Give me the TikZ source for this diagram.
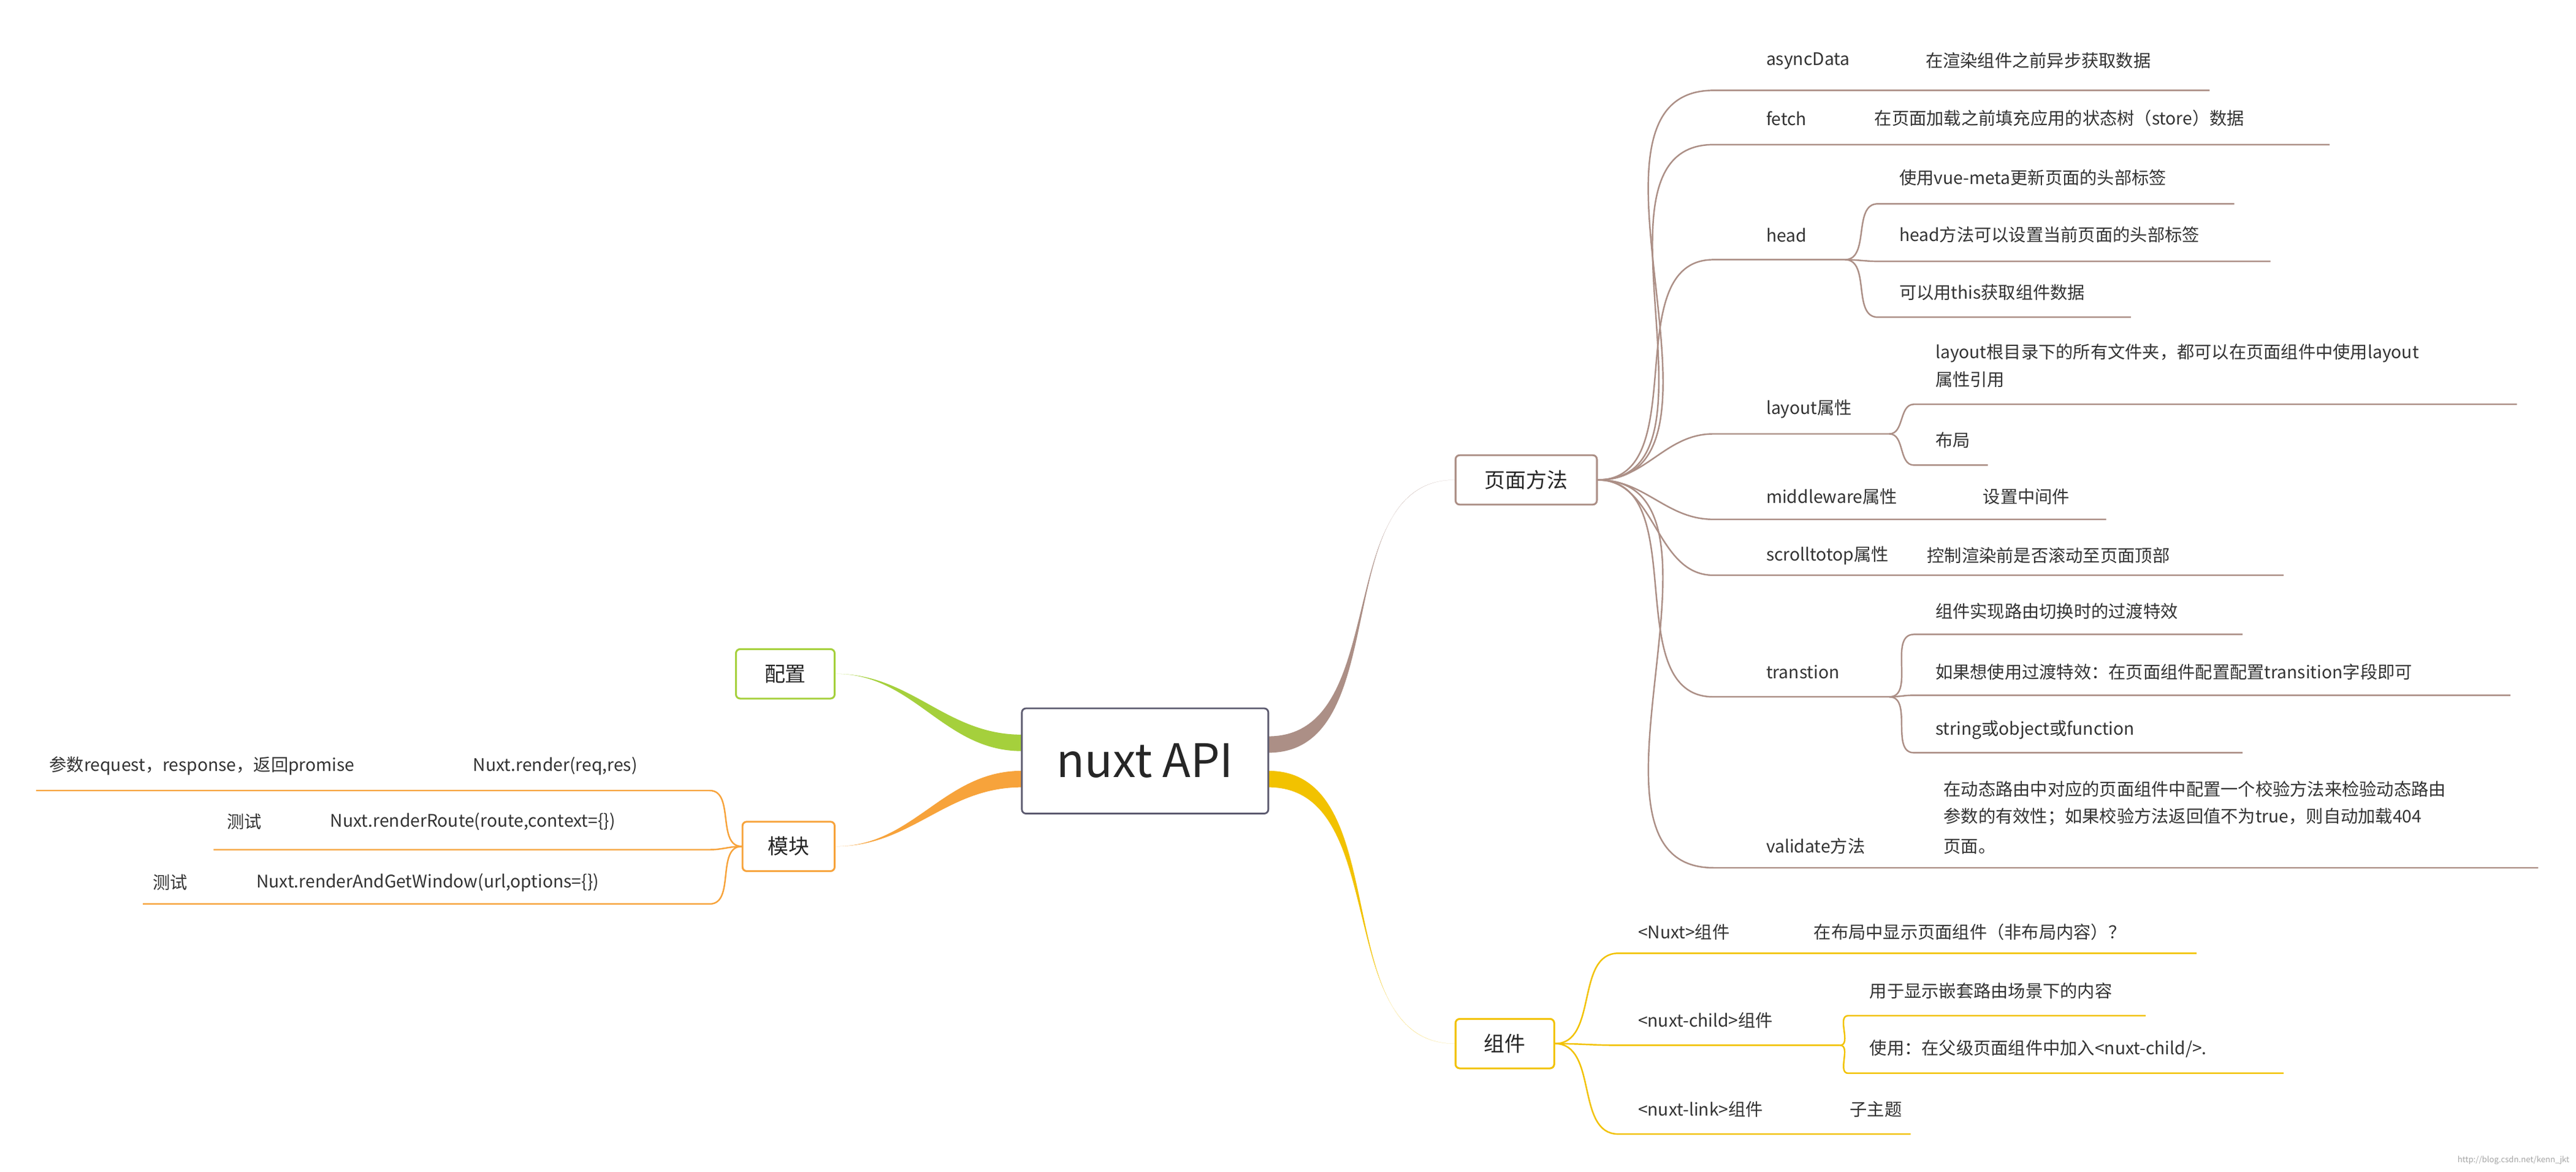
\documentclass[tikz,border=0pt]{standalone}
\usepackage{fontspec}
\usetikzlibrary{calc}
\setmainfont{Noto Sans CJK SC}
\begin{document}
\begin{tikzpicture}[x=1mm,y=-1mm,
  tx/.style={anchor=west,inner sep=0pt,text=black!80,font=\fontsize{30}{38}\selectfont},
  ln/.style={line width=2.6pt},
  br/.style={line width=3pt,color=brn},
  ye/.style={line width=3pt,color=yel},
  og/.style={line width=3pt,color=org},
  box/.style={draw,rounded corners=2.5mm,line width=3pt,fill=white,text=black!85,font=\fontsize{36}{40}\selectfont,minimum height=30mm,inner xsep=5mm}]
\definecolor{brn}{HTML}{AC8F86}
\definecolor{yel}{HTML}{F2C200}
\definecolor{org}{HTML}{F7A33B}
\definecolor{grn}{HTML}{A5D03C}
\definecolor{cen}{HTML}{5D5B70}
\useasboundingbox (0,0) rectangle (1568,713);
\fill[white] (0,0) rectangle (1568,713);
% main branches
\coordinate (cr) at (772,452);
\coordinate (cy) at (772,474);
\coordinate (cl) at (622,452);
\coordinate (cm) at (622,474);
\node[box,draw=brn,minimum width=86mm] (ym) at (929,292) {页面方法};
\node[box,draw=yel,minimum width=60mm] (zj) at (916,635) {组件};
\node[box,draw=grn,minimum width=60mm] (pz) at (478,410) {配置};
\node[box,draw=org,minimum width=56mm] (mk) at (480,515) {模块};
\fill[brn] ($(cr)+(0,-4)$) to[out=0,in=180] (ym.west) to[out=180,in=0] ($(cr)+(0,6)$) -- cycle;
\fill[yel] ($(cy)+(0,-5)$) to[out=0,in=180] (zj.west) to[out=180,in=0] ($(cy)+(0,5)$) -- cycle;
\fill[grn] ($(cl)+(0,-5)$) to[out=180,in=0] (pz.east) to[out=0,in=180] ($(cl)+(0,5)$) -- cycle;
\fill[org] ($(cm)+(0,-5)$) to[out=180,in=0] (mk.east) to[out=0,in=180] ($(cm)+(0,5)$) -- cycle;
\node[box,draw=cen,minimum width=150mm,minimum height=64mm,font=\fontsize{80}{90}\selectfont] (c) at (697,463) {nuxt API};
\node[box,draw=brn,minimum width=86mm] at (929,292) {页面方法};
\node[box,draw=yel,minimum width=60mm] at (916,635) {组件};
\node[box,draw=grn,minimum width=60mm] at (478,410) {配置};
\node[box,draw=org,minimum width=56mm] at (480,515) {模块};
% page methods
\foreach \n/\ya/\xe in {a/55/1345,f/88/1418,h/158/1123,l/264/1150,m/316/1282,s/350/1390,t/424/1150,v/528/1545}{
  \coordinate (\n0) at (1043,\ya); \coordinate (\n1) at (\xe,\ya);
  \draw[br,ln] (ym.east) to[out=0,in=180] (\n0) -- (\n1);}
\node[tx] at (1075,37) {asyncData};
\node[tx] at (1172,37) {在渲染组件之前异步获取数据};
\node[tx] at (1075,72) {fetch};
\node[tx] at (1141,72) {在页面加载之前填充应用的状态树（store）数据};
\node[tx] at (1075,143) {head};
\foreach \n/\ya/\xe in {h1/124/1360,h2/159/1382,h3/193/1297}{
  \coordinate (\n a) at (1143,\ya); \coordinate (\n b) at (\xe,\ya);
  \draw[br,ln] (h1) to[out=0,in=180] (\n a) -- (\n b);}
\node[tx] at (1156,108) {使用vue-meta更新页面的头部标签};
\node[tx] at (1156,143) {head方法可以设置当前页面的头部标签};
\node[tx] at (1156,178) {可以用this获取组件数据};
\node[tx] at (1075,249) {layout属性};
\foreach \n/\ya/\xe in {l1/246/1532,l2/283/1210}{
  \coordinate (\n a) at (1165,\ya); \coordinate (\n b) at (\xe,\ya);
  \draw[br,ln] (l1) to[out=0,in=180] (\n a) -- (\n b);}
\node[tx] at (1178,215) {layout根目录下的所有文件夹，都可以在页面组件中使用layout};
\node[tx] at (1178,231) {属性引用};
\node[tx] at (1178,268) {布局};
\node[tx] at (1075,302) {middleware属性};
\node[tx] at (1207,302) {设置中间件};
\node[tx] at (1075,338) {scrolltotop属性};
\node[tx] at (1173,338) {控制渲染前是否滚动至页面顶部};
\node[tx] at (1075,409) {transtion};
\foreach \n/\ya/\xe in {t1/386/1365,t2/423/1528,t3/458/1365}{
  \coordinate (\n a) at (1165,\ya); \coordinate (\n b) at (\xe,\ya);
  \draw[br,ln] (t1) to[out=0,in=180] (\n a) -- (\n b);}
\node[tx] at (1178,372) {组件实现路由切换时的过渡特效};
\node[tx] at (1178,409) {如果想使用过渡特效：在页面组件配置配置transition字段即可};
\node[tx] at (1178,444) {string或object或function};
\node[tx] at (1075,515) {validate方法};
\node[tx] at (1183,480) {在动态路由中对应的页面组件中配置一个校验方法来检验动态路由};
\node[tx] at (1183,497) {参数的有效性；如果校验方法返回值不为true，则自动加载404};
\node[tx] at (1183,515) {页面。};
% components
\foreach \n/\ya/\xe in {n/580/1337,c/636/1120,k/690/1163}{
  \coordinate (z\n0) at (985,\ya); \coordinate (z\n1) at (\xe,\ya);
  \draw[ye,ln] (zj.east) to[out=0,in=180] (z\n0) -- (z\n1);}
\node[tx] at (997,567) {<Nuxt>组件};
\node[tx] at (1104,567) {在布局中显示页面组件（非布局内容）？};
\node[tx] at (997,621) {<nuxt-child>组件};
\foreach \n/\ya/\xe in {c1/618/1306,c2/653/1390}{
  \coordinate (\n a) at (1125,\ya); \coordinate (\n b) at (\xe,\ya);
  \draw[ye,ln] (zc1) to[out=0,in=180] (\n a) -- (\n b);}
\node[tx] at (1138,603) {用于显示嵌套路由场景下的内容};
\node[tx] at (1138,638) {使用：在父级页面组件中加入<nuxt-child/>.};
\node[tx] at (997,675) {<nuxt-link>组件};
\node[tx] at (1126,675) {子主题};
% modules
\foreach \n/\ya/\xs in {1/481/22,2/517/130,3/550/87}{
  \coordinate (m\n0) at (432,\ya); \coordinate (m\n1) at (\xs,\ya);
  \draw[og,ln] (mk.west) to[out=180,in=0] (m\n0) -- (m\n1);}
\node[tx] at (30,466) {参数request，response，返回promise};
\node[tx] at (288,466) {Nuxt.render(req,res)};
\node[tx] at (138,500) {测试};
\node[tx] at (201,500) {Nuxt.renderRoute(route,context=\{\})};
\node[tx] at (93,537) {测试};
\node[tx] at (156,537) {Nuxt.renderAndGetWindow(url,options=\{\})};
\node[anchor=east,inner sep=0pt,text=black!35,font=\fontsize{14}{16}\selectfont] at (1564,706) {http://blog.csdn.net/kenn\_jkt};
\end{tikzpicture}
\end{document}
